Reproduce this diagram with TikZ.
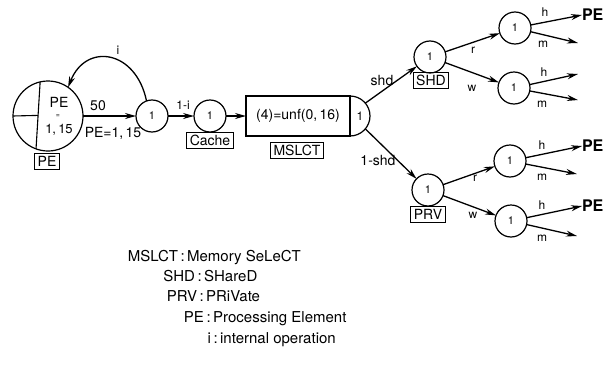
\documentclass[tikz,border=0pt]{standalone}
\usepackage{fontspec}
\setmainfont{TeX Gyre Heros}
\usetikzlibrary{arrows.meta,calc}
\newcommand\setfs[1]{\fontsize{#1}{#1}\selectfont}
\begin{document}
\begin{tikzpicture}[x=1pt,y=-1pt,
  every node/.style={inner sep=0pt, outer sep=0pt},
  place/.style={draw, circle, line width=1.2pt, minimum size=32pt, font=\setfs{11}},
  tag/.style={draw, rectangle, line width=0.9pt, inner xsep=3pt, minimum height=16pt, font=\setfs{14}},
  lbl/.style={font=\setfs{12}},
  wlbl/.style={font=\setfs{14}},
  flow/.style={line width=1.3pt, -{Stealth[length=11pt,width=6pt]}},
  outpe/.style={font=\bfseries\setfs{16}, anchor=west},
  legend/.style={font=\setfs{15}},
]
\useasboundingbox (0,0) rectangle (608,375);

% processing element pool
\node[draw, circle, line width=1.2pt, minimum size=70pt] (pe) at (48,116) {};
\draw[line width=1.1pt] (pe.103.2) -- (pe.250);
\draw[line width=1.1pt] (pe.west) -- ($(pe.103.2)!0.5!(pe.250)$);
\node[font=\setfs{14}] (petext) at (59,102) {PE};
\node[font=\setfs{7}] (peeq) at (58,116) {=};
\node[font=\setfs{13}] (penum) at (59,130) {1,\,15};
\node[tag] (petag) at (47,161) {PE};

% internal operation and cache
\node[place] (n1) at (152,116) {1};
\draw[flow] (pe.east) -- (n1);
\node[wlbl] (l50) at (98,106) {50};
\node[wlbl] (lpe) at (113,133) {PE=1,\,15};
\draw[flow] (n1.110) .. controls (136,50) and (86,42) .. (pe.55);
\node[lbl] (li) at (118,50) {i};

\node[place] (ca) at (210,116) {1};
\node[tag] (catag) at (210,140) {Cache};
\draw[flow] (n1) -- (ca);
\node[lbl] (l1i) at (183,105) {1-i};

% memory select
\node[draw, rectangle, line width=1.2pt, minimum width=104pt, minimum height=40pt,
      font=\setfs{14}] (ms) at (298,116) {(4)=unf(0,\,16)};
\draw[line width=1.2pt] (350,96) .. controls (361.05,96) and (370,104.95) .. (370,116)
      .. controls (370,127.05) and (361.05,136) .. (350,136);
\node[circle, minimum size=40pt] (msout) at (350,116) {};
\node[font=\setfs{12}] (msone) at (360,116) {1};
\node[tag] (mstag) at (297,150) {MSLCT};
\draw[flow] (ca) -- (ms);

% shared / private
\node[place] (shd) at (430,57) {1};
\node[tag] (shdtag) at (431,80) {SHD};
\node[place] (prv) at (428,190) {1};
\node[tag] (prvtag) at (428,214) {PRV};
\draw[flow] (msout.40) -- (shd);
\draw[flow] (msout.-40) -- (prv);
\node[wlbl] (lshd) at (382,80) {shd};
\node[wlbl] (l1shd) at (378,160) {1-shd};

% read / write
\node[place] (sr) at (515,28) {1};
\node[place] (sw) at (514,88) {1};
\node[place] (pr) at (510,161) {1};
\node[place] (pw) at (511,221) {1};
\draw[flow] (shd) -- (sr);
\draw[flow] (shd) -- (sw);
\draw[flow] (prv) -- (pr);
\draw[flow] (prv) -- (pw);
\node[lbl] (lr1) at (473,50) {r};
\node[lbl] (lw1) at (472,88) {w};
\node[lbl] (lr2) at (475,178) {r};
\node[lbl] (lw2) at (473,215) {w};

% hit / miss
\node[outpe] (pe1) at (582,15) {PE};
\node[outpe] (pe2) at (582,146) {PE};
\node[outpe] (pe3) at (582,206) {PE};
\coordinate (m1) at (578,43);
\coordinate (h2) at (578,74);
\coordinate (m2) at (578,100);
\coordinate (m3) at (577,174);
\coordinate (m4) at (577,236);
\draw[flow] (sr) -- (pe1.west);
\draw[flow] (sr) -- (m1);
\draw[flow] (sw) -- (h2);
\draw[flow] (sw) -- (m2);
\draw[flow] (pr) -- (pe2.west);
\draw[flow] (pr) -- (m3);
\draw[flow] (pw) -- (pe3.west);
\draw[flow] (pw) -- (m4);
\node[lbl] (lh1) at (545,12) {h};
\node[lbl] (lm1) at (543,44) {m};
\node[lbl] (lh2) at (544,72) {h};
\node[lbl] (lm2) at (542,104) {m};
\node[lbl] (lh3) at (542,145) {h};
\node[lbl] (lm3) at (542,177) {m};
\node[lbl] (lh4) at (542,205) {h};
\node[lbl] (lm4) at (542,238) {m};

% legend
\node[legend, anchor=base east] (k1) at (178,261) {MSLCT};
\node[legend, anchor=base west] (d1) at (178,261) {\,:\,Memory SeLeCT};
\node[legend, anchor=base east] (k2) at (195,281) {SHD};
\node[legend, anchor=base west] (d2) at (195,281) {\,:\,SHareD};
\node[legend, anchor=base east] (k3) at (197,301) {PRV};
\node[legend, anchor=base west] (d3) at (197,301) {\,:\,PRiVate};
\node[legend, anchor=base east] (k4) at (204,322) {PE};
\node[legend, anchor=base west] (d4) at (204,322) {\,:\,Processing Element};
\node[legend, anchor=base east] (k5) at (211,343) {i};
\node[legend, anchor=base west] (d5) at (211,343) {\,:\,internal operation};
\end{tikzpicture}
\end{document}
